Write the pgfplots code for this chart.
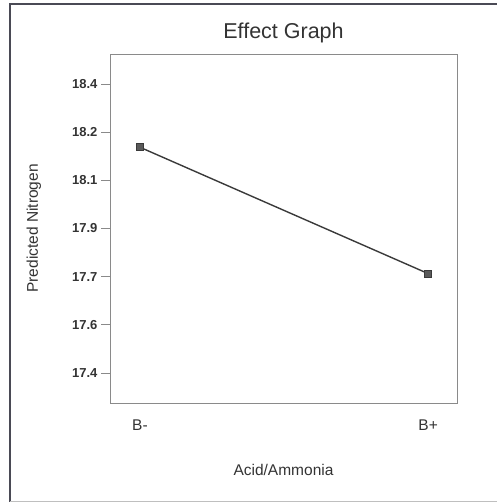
\documentclass[border=0pt]{standalone}
\usepackage{pgfplots}
\pgfplotsset{compat=1.18}
\usepackage{fontspec}
\setmainfont{Liberation Sans}
\definecolor{txt}{HTML}{333333}
\definecolor{framec}{HTML}{4A4A55}
\definecolor{boxc}{HTML}{8A8A8A}
\definecolor{linec}{HTML}{3A3A3A}
\definecolor{markc}{HTML}{5A5A5A}
\begin{document}
\begin{tikzpicture}
\useasboundingbox (0,0) rectangle (497pt,502pt);
\draw[framec, line width=1.6pt] (10pt,0pt) -- (10pt,498pt) -- (497pt,498pt);
\draw[black!25, line width=0.8pt] (10pt,1pt) -- (497pt,1pt);
\begin{axis}[
  at={(110pt,99pt)}, anchor=south west,
  scale only axis, width=347pt, height=349pt,
  xmin=-0.104, xmax=1.10, ymin=17.32, ymax=18.48,
  axis line style={boxc, line width=0.6pt},
  tick align=outside, major tick length=9pt,
  ytick={17.42,17.58,17.74,17.90,18.06,18.22,18.38},
  yticklabels={17.4,17.6,17.7,17.9,18.1,18.2,18.4},
  ytick pos=left,
  ytick style={boxc, line width=0.6pt},
  yticklabel style={font=\fontsize{13}{15}\selectfont\bfseries, text=txt},
  xtick={0,1}, xticklabels={B-,B+},
  xtick style={draw=none},
  xtick pos=bottom,
  xticklabel style={font=\fontsize{15.5}{18}\selectfont, text=txt, anchor=base, yshift=-19pt},
  title={Effect Graph},
  title style={at={(axis description cs:0.5,1.0258)}, anchor=base, font=\fontsize{21.5}{25}\selectfont, text=txt},
  xlabel={Acid/Ammonia},
  xlabel style={at={(axis description cs:0.5,-0.209)}, anchor=base, font=\fontsize{15.5}{18}\selectfont, text=txt},
  ylabel={Predicted Nitrogen},
  ylabel style={at={(axis description cs:-0.2075,0.5)}, anchor=base, rotate=0, font=\fontsize{15.5}{18}\selectfont, text=txt},
  clip=false,
]
\addplot[linec, line width=1.4pt, mark=square*, mark size=3.5pt,
  mark options={fill=markc, draw=linec, line width=0.8pt}]
  coordinates {(0,18.17) (1,17.75)};
\end{axis}
\end{tikzpicture}
\end{document}
